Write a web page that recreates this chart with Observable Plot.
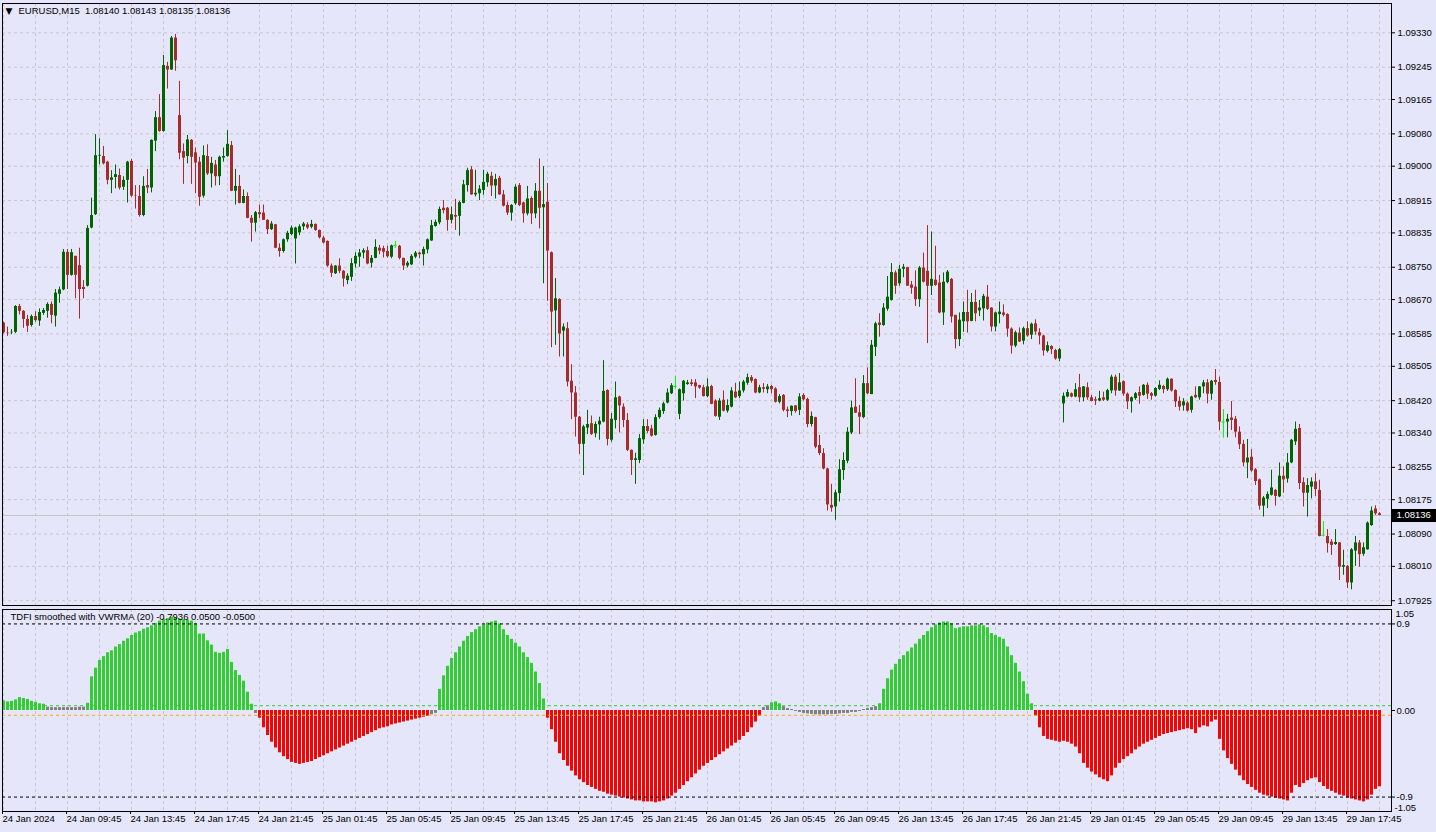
<!DOCTYPE html>
<html><head><meta charset="utf-8">
<script src="https://cdn.jsdelivr.net/npm/d3@7"></script>
<script src="https://cdn.jsdelivr.net/npm/@observablehq/plot@0.6"></script>
<style>
html,body{margin:0;padding:0;background:#E6E6FA;}
#wrap{position:relative;width:1436px;height:832px;overflow:hidden;background:#E6E6FA;}
#main{position:absolute;left:0;top:0;}
#ind{position:absolute;left:0;top:607px;}
</style></head><body><div id="wrap"><div id="main"></div><div id="ind"></div></div>
<script>
// EURUSD M15 bars, 24 Jan 2024 05:45 .. 29 Jan 2024 19:45
const open=[
1.08612,1.08588,1.08588,1.08589,1.08653,1.08641,1.08621,1.08606,1.08628,1.08617,
1.08636,1.08641,1.08658,1.08629,1.08683,1.08694,1.08787,1.08730,1.08777,1.08754,
1.08700,1.08703,1.08847,1.08880,1.09025,1.09024,1.09010,1.08965,1.08972,1.08977,
1.08948,1.08965,1.09012,1.08927,1.08925,1.08878,1.08952,1.08946,1.09062,1.09120,
1.09086,1.09247,1.09238,1.09317,1.09125,1.09036,1.09024,1.09064,1.09033,1.09010,
1.08926,1.09024,1.08981,1.09003,1.08974,1.09020,1.09024,1.09051,1.08938,1.08950,
1.08908,1.08925,1.08871,1.08859,1.08885,1.08884,1.08866,1.08843,1.08855,1.08797,
1.08789,1.08818,1.08831,1.08820,1.08835,1.08850,1.08855,1.08849,1.08856,1.08841,
1.08822,1.08814,1.08753,1.08734,1.08753,1.08740,1.08717,1.08725,1.08758,1.08775,
1.08785,1.08791,1.08760,1.08772,1.08797,1.08796,1.08789,1.08775,1.08804,1.08802,
1.08772,1.08753,1.08756,1.08775,1.08785,1.08781,1.08793,1.08815,1.08851,1.08860,
1.08896,1.08896,1.08866,1.08878,1.08876,1.08908,1.08952,1.08991,1.08929,1.08932,
1.08940,1.08959,1.08975,1.08951,1.08970,1.08929,1.08903,1.08884,1.08907,1.08952,
1.08909,1.08882,1.08920,1.08882,1.08938,1.08897,1.08911,1.08786,1.08642,1.08670,
1.08592,1.08598,1.08468,1.08439,1.08379,1.08312,1.08352,1.08363,1.08338,1.08360,
1.08367,1.08445,1.08322,1.08371,1.08429,1.08404,1.08371,1.08297,1.08272,1.08272,
1.08323,1.08356,1.08350,1.08334,1.08378,1.08393,1.08414,1.08437,1.08455,1.08386,
1.08437,1.08460,1.08464,1.08464,1.08457,1.08452,1.08430,1.08455,1.08419,1.08379,
1.08421,1.08394,1.08404,1.08441,1.08430,1.08444,1.08463,1.08477,1.08472,1.08439,
1.08452,1.08447,1.08455,1.08449,1.08416,1.08433,1.08397,1.08393,1.08407,1.08396,
1.08433,1.08423,1.08361,1.08378,1.08309,1.08289,1.08251,1.08161,1.08157,1.08190,
1.08247,1.08270,1.08340,1.08404,1.08390,1.08378,1.08462,1.08435,1.08552,1.08612,
1.08606,1.08646,1.08668,1.08736,1.08709,1.08745,1.08749,1.08706,1.08701,1.08670,
1.08748,1.08740,1.08703,1.08718,1.08711,1.08637,1.08712,1.08720,1.08631,1.08571,
1.08615,1.08638,1.08616,1.08663,1.08642,1.08647,1.08676,1.08649,1.08602,1.08633,
1.08637,1.08633,1.08597,1.08555,1.08587,1.08567,1.08598,1.08582,1.08610,1.08588,
1.08580,1.08542,1.08554,1.08544,1.08523,1.08412,1.08429,1.08437,1.08429,1.08452,
1.08427,1.08452,1.08427,1.08422,1.08419,1.08427,1.08421,1.08444,1.08478,1.08444,
1.08467,1.08436,1.08417,1.08425,1.08440,1.08433,1.08458,1.08437,1.08431,1.08448,
1.08455,1.08447,1.08473,1.08445,1.08418,1.08407,1.08414,1.08396,1.08433,1.08427,
1.08454,1.08464,1.08436,1.08470,1.08465,1.08367,1.08367,1.08377,1.08374,1.08342,
1.08312,1.08266,1.08280,1.08249,1.08224,1.08159,1.08176,1.08186,1.08198,1.08182,
1.08233,1.08226,1.08266,1.08318,1.08351,1.08217,1.08191,1.08206,1.08219,1.08198,
1.08087,1.08084,1.08070,1.08064,1.08068,1.08008,1.08010,1.07969,1.08048,1.08068,
1.08040,1.08051,1.08111,1.08152,1.08140];
const high=[
1.08614,1.08602,1.08596,1.08655,1.08658,1.08643,1.08631,1.08632,1.08640,1.08647,
1.08648,1.08662,1.08664,1.08695,1.08701,1.08794,1.08794,1.08794,1.08777,1.08797,
1.08717,1.08853,1.08921,1.09078,1.09068,1.09049,1.09012,1.08989,1.09003,1.08993,
1.08974,1.09012,1.09017,1.08952,1.08952,1.08974,1.08992,1.09065,1.09135,1.09177,
1.09274,1.09257,1.09321,1.09326,1.09210,1.09055,1.09076,1.09066,1.09045,1.09022,
1.09050,1.09053,1.09022,1.09014,1.09025,1.09045,1.09088,1.09061,1.08992,1.08977,
1.08941,1.08934,1.08878,1.08888,1.08904,1.08904,1.08868,1.08863,1.08856,1.08808,
1.08820,1.08839,1.08852,1.08849,1.08855,1.08861,1.08860,1.08866,1.08857,1.08842,
1.08827,1.08815,1.08758,1.08754,1.08771,1.08742,1.08734,1.08771,1.08786,1.08794,
1.08796,1.08800,1.08779,1.08818,1.08804,1.08802,1.08802,1.08805,1.08814,1.08804,
1.08772,1.08764,1.08781,1.08789,1.08787,1.08800,1.08820,1.08866,1.08867,1.08899,
1.08915,1.08898,1.08899,1.08918,1.08913,1.08965,1.08995,1.08999,1.08990,1.08952,
1.08990,1.08985,1.08985,1.08980,1.08975,1.08940,1.08911,1.08905,1.08954,1.08957,
1.08911,1.08950,1.08924,1.08957,1.09018,1.08999,1.08957,1.08788,1.08722,1.08672,
1.08610,1.08613,1.08509,1.08455,1.08381,1.08359,1.08396,1.08382,1.08367,1.08379,
1.08519,1.08447,1.08388,1.08466,1.08431,1.08412,1.08388,1.08298,1.08290,1.08336,
1.08373,1.08373,1.08359,1.08385,1.08402,1.08416,1.08449,1.08462,1.08480,1.08449,
1.08470,1.08470,1.08472,1.08472,1.08458,1.08458,1.08474,1.08458,1.08422,1.08425,
1.08444,1.08422,1.08452,1.08463,1.08466,1.08470,1.08486,1.08482,1.08474,1.08458,
1.08462,1.08460,1.08458,1.08452,1.08435,1.08435,1.08404,1.08407,1.08408,1.08437,
1.08437,1.08426,1.08392,1.08379,1.08334,1.08301,1.08253,1.08213,1.08198,1.08274,
1.08291,1.08353,1.08419,1.08474,1.08408,1.08482,1.08501,1.08569,1.08614,1.08635,
1.08660,1.08727,1.08759,1.08741,1.08755,1.08757,1.08750,1.08715,1.08741,1.08752,
1.08785,1.08853,1.08837,1.08802,1.08730,1.08736,1.08742,1.08722,1.08631,1.08637,
1.08664,1.08693,1.08685,1.08693,1.08668,1.08683,1.08705,1.08650,1.08639,1.08664,
1.08657,1.08635,1.08600,1.08592,1.08600,1.08602,1.08615,1.08612,1.08620,1.08598,
1.08582,1.08565,1.08556,1.08547,1.08549,1.08439,1.08447,1.08439,1.08462,1.08485,
1.08455,1.08464,1.08433,1.08429,1.08443,1.08441,1.08448,1.08483,1.08483,1.08487,
1.08469,1.08439,1.08429,1.08440,1.08454,1.08460,1.08464,1.08440,1.08452,1.08469,
1.08458,1.08476,1.08474,1.08447,1.08429,1.08425,1.08417,1.08431,1.08454,1.08455,
1.08470,1.08472,1.08470,1.08497,1.08478,1.08398,1.08386,1.08418,1.08381,1.08355,
1.08322,1.08324,1.08299,1.08252,1.08226,1.08183,1.08194,1.08248,1.08200,1.08266,
1.08256,1.08289,1.08324,1.08367,1.08361,1.08229,1.08227,1.08229,1.08239,1.08223,
1.08121,1.08101,1.08076,1.08101,1.08069,1.08050,1.08012,1.08054,1.08084,1.08074,
1.08068,1.08120,1.08157,1.08160,1.08143];
const low=[
1.08585,1.08579,1.08583,1.08586,1.08632,1.08599,1.08589,1.08602,1.08614,1.08604,
1.08631,1.08624,1.08610,1.08602,1.08661,1.08692,1.08695,1.08728,1.08672,1.08622,
1.08672,1.08701,1.08845,1.08878,1.09003,1.09003,1.08954,1.08932,1.08944,1.08941,
1.08940,1.08909,1.08923,1.08894,1.08874,1.08875,1.08932,1.08934,1.09036,1.09084,
1.09084,1.09191,1.09237,1.09235,1.09016,1.08955,1.09006,1.08955,1.08932,1.08901,
1.08921,1.08977,1.08946,1.08951,1.08952,1.09010,1.09022,1.08937,1.08904,1.08907,
1.08907,1.08870,1.08812,1.08837,1.08870,1.08866,1.08831,1.08841,1.08796,1.08775,
1.08785,1.08812,1.08828,1.08758,1.08828,1.08841,1.08843,1.08845,1.08839,1.08820,
1.08808,1.08750,1.08725,1.08732,1.08734,1.08701,1.08707,1.08715,1.08748,1.08750,
1.08771,1.08756,1.08748,1.08771,1.08781,1.08773,1.08773,1.08771,1.08797,1.08768,
1.08742,1.08748,1.08754,1.08771,1.08771,1.08753,1.08783,1.08814,1.08849,1.08855,
1.08882,1.08839,1.08857,1.08841,1.08827,1.08907,1.08936,1.08928,1.08924,1.08915,
1.08928,1.08948,1.08925,1.08919,1.08928,1.08899,1.08878,1.08864,1.08903,1.08900,
1.08859,1.08877,1.08856,1.08870,1.08845,1.08709,1.08666,1.08551,1.08557,1.08528,
1.08528,1.08454,1.08373,1.08330,1.08287,1.08235,1.08336,1.08334,1.08328,1.08322,
1.08365,1.08308,1.08317,1.08350,1.08340,1.08353,1.08294,1.08235,1.08213,1.08264,
1.08312,1.08338,1.08330,1.08332,1.08374,1.08386,1.08412,1.08435,1.08449,1.08373,
1.08419,1.08458,1.08455,1.08425,1.08448,1.08429,1.08427,1.08410,1.08379,1.08371,
1.08392,1.08389,1.08402,1.08425,1.08425,1.08439,1.08458,1.08463,1.08437,1.08437,
1.08439,1.08437,1.08437,1.08414,1.08412,1.08392,1.08378,1.08382,1.08389,1.08383,
1.08419,1.08353,1.08355,1.08301,1.08284,1.08249,1.08147,1.08144,1.08124,1.08169,
1.08223,1.08264,1.08336,1.08388,1.08336,1.08375,1.08435,1.08435,1.08529,1.08577,
1.08604,1.08641,1.08666,1.08683,1.08703,1.08724,1.08703,1.08683,1.08653,1.08651,
1.08711,1.08561,1.08680,1.08703,1.08635,1.08606,1.08709,1.08612,1.08548,1.08554,
1.08589,1.08587,1.08615,1.08615,1.08628,1.08617,1.08643,1.08590,1.08590,1.08610,
1.08627,1.08577,1.08535,1.08551,1.08564,1.08558,1.08577,1.08571,1.08582,1.08558,
1.08530,1.08538,1.08534,1.08520,1.08516,1.08365,1.08427,1.08427,1.08427,1.08415,
1.08417,1.08421,1.08417,1.08408,1.08417,1.08418,1.08418,1.08437,1.08431,1.08443,
1.08431,1.08398,1.08389,1.08421,1.08411,1.08431,1.08423,1.08421,1.08429,1.08445,
1.08437,1.08443,1.08441,1.08403,1.08394,1.08394,1.08392,1.08389,1.08425,1.08421,
1.08437,1.08412,1.08421,1.08458,1.08346,1.08327,1.08328,1.08346,1.08328,1.08299,
1.08256,1.08227,1.08243,1.08210,1.08149,1.08132,1.08153,1.08184,1.08159,1.08180,
1.08191,1.08216,1.08264,1.08309,1.08200,1.08157,1.08132,1.08177,1.08183,1.08083,
1.08083,1.08043,1.08037,1.08062,1.07975,1.07988,1.07955,1.07952,1.08010,1.08008,
1.08035,1.08050,1.08109,1.08136,1.08135];
const close=[
1.08588,1.08587,1.08589,1.08653,1.08641,1.08621,1.08604,1.08628,1.08618,1.08638,
1.08643,1.08658,1.08631,1.08686,1.08694,1.08787,1.08730,1.08786,1.08730,1.08695,
1.08695,1.08846,1.08878,1.09026,1.09027,1.09006,1.08965,1.08971,1.08979,1.08946,
1.08965,1.09010,1.08926,1.08926,1.08878,1.08950,1.08946,1.09064,1.09120,1.09086,
1.09249,1.09238,1.09317,1.09261,1.09032,1.09020,1.09065,1.09022,1.09008,1.08923,
1.09026,1.08981,1.09007,1.08974,1.09022,1.09024,1.09054,1.08938,1.08950,1.08908,
1.08925,1.08871,1.08859,1.08885,1.08880,1.08866,1.08843,1.08857,1.08797,1.08789,
1.08818,1.08834,1.08847,1.08847,1.08850,1.08857,1.08847,1.08856,1.08841,1.08823,
1.08810,1.08753,1.08735,1.08753,1.08740,1.08721,1.08728,1.08759,1.08777,1.08785,
1.08791,1.08758,1.08772,1.08799,1.08790,1.08787,1.08776,1.08803,1.08804,1.08772,
1.08753,1.08760,1.08777,1.08785,1.08781,1.08794,1.08818,1.08853,1.08861,1.08893,
1.08890,1.08866,1.08880,1.08874,1.08910,1.08954,1.08989,1.08929,1.08933,1.08943,
1.08960,1.08980,1.08951,1.08967,1.08929,1.08901,1.08884,1.08903,1.08948,1.08903,
1.08882,1.08919,1.08882,1.08938,1.08896,1.08905,1.08790,1.08639,1.08672,1.08585,
1.08602,1.08466,1.08439,1.08379,1.08312,1.08355,1.08361,1.08336,1.08361,1.08369,
1.08443,1.08324,1.08374,1.08427,1.08407,1.08371,1.08297,1.08272,1.08276,1.08326,
1.08356,1.08344,1.08332,1.08378,1.08396,1.08412,1.08439,1.08457,1.08455,1.08447,
1.08468,1.08464,1.08460,1.08454,1.08451,1.08430,1.08454,1.08411,1.08381,1.08419,
1.08394,1.08408,1.08444,1.08427,1.08444,1.08466,1.08477,1.08468,1.08439,1.08452,
1.08448,1.08454,1.08447,1.08416,1.08430,1.08396,1.08393,1.08406,1.08393,1.08429,
1.08422,1.08361,1.08381,1.08305,1.08289,1.08251,1.08162,1.08154,1.08192,1.08249,
1.08272,1.08342,1.08402,1.08389,1.08379,1.08462,1.08437,1.08557,1.08610,1.08606,
1.08649,1.08676,1.08737,1.08703,1.08745,1.08750,1.08703,1.08698,1.08670,1.08748,
1.08713,1.08703,1.08720,1.08705,1.08637,1.08713,1.08738,1.08627,1.08571,1.08619,
1.08638,1.08615,1.08663,1.08635,1.08649,1.08678,1.08646,1.08602,1.08637,1.08639,
1.08631,1.08597,1.08555,1.08588,1.08565,1.08598,1.08580,1.08609,1.08590,1.08580,
1.08543,1.08556,1.08546,1.08523,1.08546,1.08431,1.08440,1.08429,1.08447,1.08427,
1.08454,1.08427,1.08418,1.08419,1.08425,1.08421,1.08445,1.08478,1.08444,1.08464,
1.08436,1.08417,1.08427,1.08437,1.08431,1.08458,1.08436,1.08431,1.08450,1.08458,
1.08447,1.08473,1.08444,1.08417,1.08404,1.08417,1.08394,1.08429,1.08427,1.08454,
1.08464,1.08436,1.08468,1.08465,1.08367,1.08367,1.08374,1.08371,1.08342,1.08311,
1.08266,1.08278,1.08246,1.08220,1.08159,1.08179,1.08188,1.08204,1.08183,1.08233,
1.08224,1.08266,1.08322,1.08349,1.08215,1.08191,1.08210,1.08219,1.08200,1.08084,
1.08087,1.08066,1.08062,1.08069,1.08008,1.08012,1.07969,1.08051,1.08068,1.08039,
1.08056,1.08117,1.08147,1.08140,1.08136];
// TDFI smoothed with VWRMA(20)
const tdfi=[
0.10,0.09,0.095,0.11,0.135,0.125,0.115,0.095,0.085,0.07,
0.065,0.035,0.03,0.03,0.03,0.03,0.03,0.03,0.03,0.035,
0.035,0.075,0.35,0.44,0.52,0.56,0.60,0.62,0.66,0.685,
0.72,0.745,0.78,0.805,0.82,0.845,0.86,0.88,0.905,0.93,
0.95,0.955,0.97,0.965,0.95,0.945,0.94,0.93,0.90,0.795,
0.795,0.725,0.68,0.605,0.595,0.605,0.635,0.50,0.415,0.365,
0.305,0.19,0.065,-0.03,-0.08,-0.18,-0.26,-0.33,-0.39,-0.44,
-0.48,-0.51,-0.54,-0.55,-0.56,-0.55,-0.54,-0.53,-0.51,-0.49,
-0.47,-0.45,-0.43,-0.41,-0.39,-0.37,-0.35,-0.33,-0.31,-0.29,
-0.27,-0.25,-0.23,-0.21,-0.19,-0.18,-0.17,-0.15,-0.14,-0.13,
-0.12,-0.11,-0.10,-0.09,-0.08,-0.07,-0.06,-0.045,-0.03,0.22,
0.36,0.46,0.54,0.60,0.66,0.72,0.77,0.81,0.84,0.87,
0.89,0.91,0.92,0.93,0.90,0.84,0.78,0.74,0.70,0.66,
0.60,0.55,0.49,0.40,0.28,0.12,-0.08,-0.20,-0.33,-0.45,
-0.52,-0.58,-0.63,-0.68,-0.72,-0.75,-0.78,-0.80,-0.82,-0.84,
-0.85,-0.87,-0.88,-0.89,-0.90,-0.91,-0.92,-0.93,-0.94,-0.94,
-0.95,-0.95,-0.95,-0.96,-0.95,-0.94,-0.92,-0.89,-0.86,-0.82,
-0.78,-0.74,-0.70,-0.66,-0.62,-0.58,-0.55,-0.52,-0.49,-0.46,
-0.43,-0.40,-0.37,-0.34,-0.31,-0.27,-0.23,-0.18,-0.12,-0.06,
0.03,0.05,0.08,0.09,0.07,0.04,0.02,0.01,-0.01,-0.02,
-0.03,-0.035,-0.04,-0.045,-0.045,-0.045,-0.045,-0.04,-0.04,-0.035,
-0.03,-0.03,-0.02,-0.02,-0.01,0.01,0.02,0.03,0.04,0.07,
0.22,0.33,0.42,0.48,0.53,0.57,0.61,0.65,0.69,0.74,
0.78,0.82,0.86,0.89,0.91,0.92,0.92,0.90,0.85,0.86,
0.87,0.87,0.88,0.88,0.89,0.88,0.86,0.80,0.78,0.76,
0.74,0.66,0.57,0.49,0.40,0.30,0.17,0.07,-0.06,-0.18,
-0.27,-0.30,-0.31,-0.32,-0.33,-0.32,-0.33,-0.35,-0.38,-0.45,
-0.55,-0.60,-0.64,-0.67,-0.70,-0.72,-0.74,-0.68,-0.60,-0.55,
-0.51,-0.48,-0.45,-0.41,-0.38,-0.35,-0.33,-0.31,-0.29,-0.27,
-0.25,-0.24,-0.23,-0.22,-0.21,-0.20,-0.19,-0.20,-0.24,-0.18,
-0.16,-0.17,-0.12,-0.10,-0.30,-0.42,-0.50,-0.56,-0.62,-0.68,
-0.73,-0.77,-0.80,-0.83,-0.86,-0.88,-0.89,-0.90,-0.91,-0.92,
-0.93,-0.94,-0.86,-0.78,-0.80,-0.76,-0.73,-0.71,-0.70,-0.75,
-0.79,-0.82,-0.84,-0.86,-0.88,-0.89,-0.91,-0.92,-0.93,-0.94,
-0.95,-0.93,-0.88,-0.82,-0.7936];
const priceTicks=[1.09330,1.09245,1.09165,1.09080,1.09000,1.08915,1.08835,1.08750,1.08670,1.08585,1.08505,1.08420,1.08340,1.08255,1.08175,1.08090,1.08010,1.07925];
const timeLabels=["24 Jan 2024","24 Jan 09:45","24 Jan 13:45","24 Jan 17:45","24 Jan 21:45","25 Jan 01:45","25 Jan 05:45","25 Jan 09:45","25 Jan 13:45","25 Jan 17:45","25 Jan 21:45","26 Jan 01:45","26 Jan 05:45","26 Jan 09:45","26 Jan 13:45","26 Jan 17:45","26 Jan 21:45","29 Jan 01:45","29 Jan 05:45","29 Jan 09:45","29 Jan 13:45","29 Jan 17:45"];
const levels=[0.9,0.05,-0.05,-0.9];
const symbolHeader="EURUSD,M15";
const indicatorName="TDFI smoothed with VWRMA (20)";

const n=close.length;
const candles=close.map((c,i)=>({i,o:open[i],h:high[i],l:low[i],c}));
const last=candles[n-1];
const labelBars=timeLabels.map((_,k)=>k*16);
const gridBars=d3.range(0,n,8);
const UP="#006400",DN="#a82a2a",DOJI="#00ff00";
const col=d=>d.c>d.o?UP:d.c<d.o?DN:DOJI;
const xDomain=[-0.25,347];
const BG="#E6E6FA",GRID="#c6c6cc";
const font="'Liberation Sans',Arial,sans-serif";

const main=Plot.plot({
  width:1436,height:608,marginLeft:2,marginRight:45,marginTop:3,marginBottom:3,
  style:{background:BG,fontFamily:font,fontSize:"9.5px",color:"#000",overflow:"visible"},
  x:{domain:xDomain,axis:null},
  y:{domain:[1.079132,1.094025],axis:null},
  marks:[
    Plot.ruleY(priceTicks,{stroke:GRID,strokeDasharray:"3,3"}),
    Plot.ruleX(gridBars,{stroke:GRID,strokeDasharray:"3,3"}),
    Plot.ruleY([last.c],{stroke:"#c4c4c4"}),
    Plot.ruleX(candles,{x:"i",y1:"l",y2:"h",stroke:col}),
    Plot.ruleX(candles.filter(d=>d.o!==d.c),{x:"i",y1:"o",y2:"c",stroke:col,strokeWidth:3}),
    Plot.ruleY(candles.filter(d=>d.o===d.c),{y:"c",x1:d=>d.i-0.4,x2:d=>d.i+0.4,stroke:DOJI}),
    Plot.frame({stroke:"#000"}),
    Plot.axisY({anchor:"right",label:null,ticks:priceTicks,tickFormat:d=>d.toFixed(5),tickSize:3,tickPadding:3,stroke:"#000"}),
    Plot.ruleY([last.c],{x1:xDomain[1],x2:xDomain[1]+11.5,stroke:"#000",strokeWidth:13}),
    Plot.text([last.c],{x:xDomain[1],y:d=>d,text:d=>d.toFixed(5),textAnchor:"start",dx:5,fill:"#fff"}),
    Plot.text(["▼"],{frameAnchor:"top-left",dx:3,dy:7.5,lineAnchor:"middle",textAnchor:"start",fontSize:9,fontFamily:"DejaVu Sans"}),
    Plot.text([`${symbolHeader}\u00a0 ${[last.o,last.h,last.l,last.c].map(v=>v.toFixed(5)).join(" ")}`],
      {frameAnchor:"top-left",dx:16,dy:7.5,lineAnchor:"middle",textAnchor:"start"})
  ]
});
document.getElementById("main").appendChild(main);

const hist=tdfi.map((v,i)=>({i,v}));
const hcol=d=>d.v>0.05?"#32cd32":d.v<-0.05?"#ff0000":"#808080";
const ind=Plot.plot({
  width:1436,height:225,marginLeft:2,marginRight:45,marginTop:2,marginBottom:21,
  style:{background:BG,fontFamily:font,fontSize:"9.5px",color:"#000",overflow:"visible"},
  x:{domain:xDomain,axis:null},
  y:{domain:[-1.05,1.05],axis:null},
  marks:[
    Plot.ruleX(gridBars,{stroke:GRID,strokeDasharray:"3,3"}),
    Plot.ruleX(hist,{x:"i",y1:0,y2:"v",stroke:hcol,strokeWidth:3}),
    Plot.ruleY([levels[0],levels[3]],{stroke:"#000",strokeDasharray:"3,3"}),
    Plot.ruleY([levels[1]],{stroke:"#32cd32",strokeDasharray:"3,3"}),
    Plot.ruleY([levels[2]],{stroke:"#ffa500",strokeDasharray:"3,3"}),
    Plot.frame({stroke:"#000"}),
    Plot.axisY({anchor:"right",label:null,ticks:[0.9,0,-0.9],tickFormat:d=>d===0?"0.00":String(d),tickSize:3,tickPadding:2,stroke:"#000"}),
    Plot.text(["1.05"],{x:xDomain[1],y:1.05,textAnchor:"start",lineAnchor:"top",dx:4,dy:1}),
    Plot.text(["-1.05"],{x:xDomain[1],y:-1.05,textAnchor:"start",lineAnchor:"bottom",dx:3,dy:-1}),
    Plot.axisX({anchor:"bottom",label:null,ticks:labelBars,tickFormat:(d,k)=>timeLabels[k],tickSize:3,tickPadding:1,textAnchor:"start",dx:-1,stroke:"#000"}),
    Plot.text([`${indicatorName} ${tdfi[n-1].toFixed(4)} ${levels[1].toFixed(4)} ${levels[2].toFixed(4)}`],
      {frameAnchor:"top-left",dx:8,dy:7,lineAnchor:"middle",textAnchor:"start"})
  ]
});
document.getElementById("ind").appendChild(ind);
</script></body></html>
